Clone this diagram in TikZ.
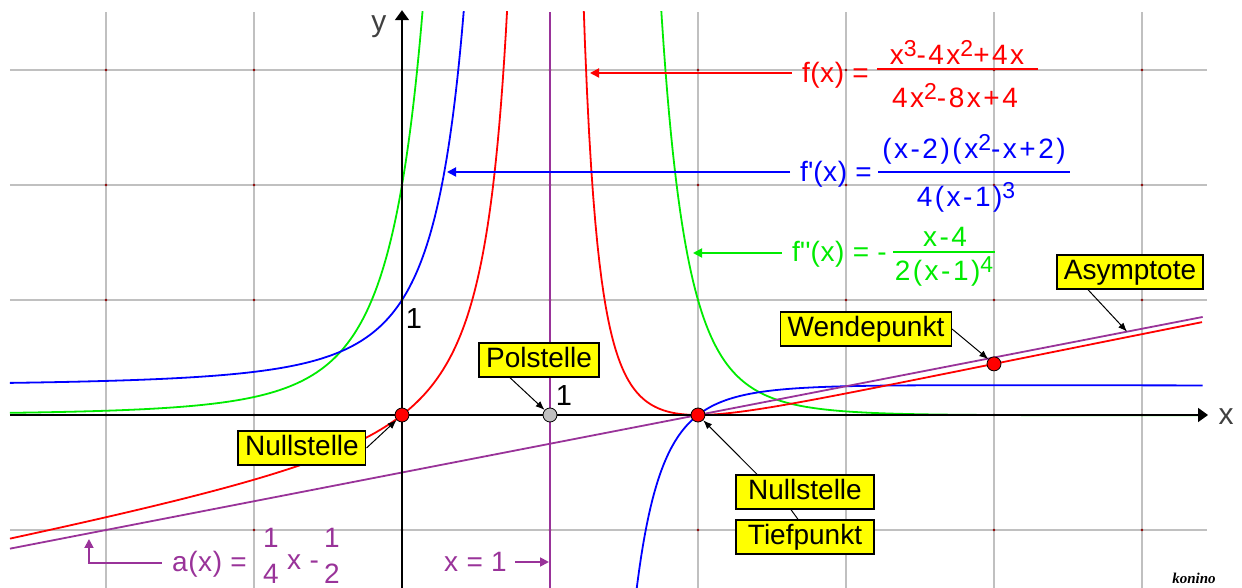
\documentclass[tikz,border=0pt]{standalone}
\usepackage{fontspec}
\setmainfont{Liberation Sans}
\newfontfamily\ffont[LetterSpace=9]{Liberation Sans}
\newfontfamily\lfont[LetterSpace=2]{Liberation Sans}
\newfontfamily\sigfont{Liberation Serif}
\usetikzlibrary{arrows.meta,calc}
\definecolor{gridc}{RGB}{192,192,192}
\definecolor{cred}{RGB}{255,0,0}
\definecolor{cblue}{RGB}{0,0,255}
\definecolor{cgreen}{RGB}{0,235,0}
\definecolor{cpurple}{RGB}{153,51,153}
\definecolor{dotc}{RGB}{140,0,0}
\definecolor{labyellow}{RGB}{255,255,0}
\definecolor{axlab}{RGB}{64,64,64}
\newcommand\sups[1]{\raisebox{8pt}{\fontsize{23}{23}\selectfont #1}}
\begin{document}
\begin{tikzpicture}[x=148pt,y=115pt,
  gridline/.style={gridc, line width=1.8pt},
  curve/.style={line width=1.8pt, line join=round},
  axis/.style={line width=1.8pt, black, -{Triangle[length=10pt,width=14pt]}},
  tag/.style={draw=black, line width=1.4pt, fill=labyellow, font=\fontsize{28}{30}\selectfont,
    inner xsep=7pt, inner ysep=3.5pt, text height=21pt, text depth=6pt},
  pin/.style={draw=black, line width=1pt, -{Latex[length=9pt,width=7pt]}},
  dot/.style={circle, draw=black, line width=0.8pt, minimum size=14pt, inner sep=0pt},
  fml/.style={inner sep=0pt, font=\ffont\fontsize{28}{30}\selectfont},
  flab/.style={inner sep=0pt, font=\lfont\fontsize{28}{30}\selectfont},
  farrow/.style={line width=1.8pt, -{Triangle[length=9pt,width=9pt]}},
  fbar/.style={line width=1.8pt},
  num/.style={inner sep=0pt, font=\fontsize{29}{30}\selectfont},
]
\useasboundingbox (-402pt,-173pt) rectangle (840pt,415pt);

% grid
\foreach \i in {-2,-1,1,2,3,4,5} \draw[gridline] (\i,-1.51) -- (\i,3.504);
\foreach \j in {-1,1,2,3} \draw[gridline] (-2.649,\j) -- (5.439,\j);
\foreach \i in {-2,...,5} \foreach \j in {-1,...,3} \fill[dotc] (\i,\j) circle (1.3pt);

% pole line x = 1
\draw[cpurple, line width=1.8pt] (1,-1.51) -- (1,3.504);

% curves
\begin{scope}
\clip (-392pt,-173pt) rectangle (810pt,403pt);
\draw[curve,cgreen,domain=-2.649:0.151,samples=300] plot (\x,{-(\x-4)/(2*(\x-1)*(\x-1)*(\x-1)*(\x-1))});
\draw[curve,cgreen,domain=1.743:5.44,samples=300] plot (\x,{-(\x-4)/(2*(\x-1)*(\x-1)*(\x-1)*(\x-1))});
\draw[curve,cblue,domain=-2.649:0.43,samples=300] plot (\x,{(\x-2)*(\x*\x-\x+2)/(4*(\x-1)*(\x-1)*(\x-1))});
\draw[curve,cblue,domain=1.577:5.41,samples=300] plot (\x,{(\x-2)*(\x*\x-\x+2)/(4*(\x-1)*(\x-1)*(\x-1))});
\draw[curve,cred,domain=-2.649:0.718,samples=300] plot (\x,{\x*(\x-2)*(\x-2)/(4*(\x-1)*(\x-1))});
\draw[curve,cred,domain=1.222:5.41,samples=300] plot (\x,{\x*(\x-2)*(\x-2)/(4*(\x-1)*(\x-1))});
\draw[curve,cpurple] (-2.649,{-2.649/4-0.5}) -- (5.41,{5.41/4-0.5});
\end{scope}

% axes
\draw[axis] (-2.649,0) -- (5.446,0);
\draw[axis] (0,-1.51) -- (0,3.52);
\node[font=\fontsize{30}{30}\selectfont, text=axlab, inner sep=0pt] (xl) at (824pt,-2pt) {x};
\node[font=\fontsize{30}{30}\selectfont, text=axlab, inner sep=0pt] (yl) at (-23pt,388pt) {y};
\node[num] (one1) at (12pt,96pt) {1};
\node[num] (one2) at (162pt,19pt) {1};

% points
\node[dot, fill=cred] (p0) at (0,0) {};
\node[dot, fill=gridc] (p1) at (1,0) {};
\node[dot, fill=cred] (p2) at (2,0) {};
\node[dot, fill=cred] (p3) at (4,0.4444) {};

% tags
\node[tag] (nl) at (-100pt,-33pt) {Nullstelle};
\node[tag] (pol) at (137pt,55pt) {Polstelle};
\node[tag, minimum width=138pt] (nr) at (403pt,-77pt) {Nullstelle};
\node[tag, minimum width=138pt] (tp) at (403pt,-122pt) {Tiefpunkt};
\node[tag] (wen) at (464pt,86pt) {Wendepunkt};
\node[tag] (asy) at (728pt,143pt) {Asymptote};
\coordinate (asyp) at (4.899,0.7247);

\draw[pin] (nl.east) -- (p0);
\draw[pin] ([xshift=-29pt]pol.south) -- (p1);
\draw[pin] ([xshift=-48pt]nr.north) -- (p2);
\draw[draw=black, line width=1pt] ([xshift=-7pt]tp.north) -- ([xshift=-14pt]nr.south);
\draw[pin] (wen.east) -- (p3);
\draw[pin] ([xshift=-42pt]asy.south) -- (asyp);

% f(x)
\node[flab, text=cred, anchor=base east] (ft) at (467pt,332pt) {f(x) =};
\node[fml, text=cred, anchor=base] (fn) at (555pt,350pt) {x\sups{3}-4x\sups{2}+4x};
\draw[fbar, cred] (475pt,346pt) -- (636pt,346pt);
\node[fml, text=cred, anchor=base] (fd) at (553pt,307pt) {4x\sups{2}-8x+4};
\coordinate (ftip) at (188pt,342pt);
\draw[farrow, cred] ($(ft.west |- ftip)+(-10pt,0)$) -- (ftip);

% f'(x)
\node[flab, text=cblue, anchor=base east] (gt) at (470pt,233pt) {f\textquotesingle(x) =};
\node[fml, text=cblue, anchor=base] (gn) at (572pt,256pt) {(x-2)(x\sups{2}-x+2)};
\draw[fbar, cblue] (476pt,243pt) -- (668pt,243pt);
\node[fml, text=cblue, anchor=base] (gd) at (564pt,208pt) {4(x-1)\sups{3}};
\coordinate (gtip) at (45pt,243pt);
\draw[farrow, cblue] ($(gt.west |- gtip)+(-10pt,0)$) -- (gtip);

% f''(x)
\node[flab, text=cgreen, anchor=base east] (ht) at (485pt,153pt) {f\textquotesingle\textquotesingle(x) = -};
\node[fml, text=cgreen, anchor=base] (hn) at (543pt,168pt) {x-4};
\draw[fbar, cgreen] (491pt,163pt) -- (593pt,163pt);
\node[fml, text=cgreen, anchor=base] (hd) at (542pt,134pt) {2(x-1)\sups{4}};
\coordinate (htip) at (291pt,162pt);
\draw[farrow, cgreen] ($(ht.west |- htip)+(-10pt,0)$) -- (htip);

% a(x)
\node[flab, text=cpurple, anchor=base west] (at) at (-230pt,-157pt) {a(x) =};
\node[fml, text=cpurple, anchor=base] (an1) at (-131pt,-133pt) {1};
\node[fml, text=cpurple, anchor=base] (ad1) at (-131pt,-169pt) {4};
\node[flab, text=cpurple, anchor=base west] (ax) at (-115pt,-155pt) {x -};
\node[fml, text=cpurple, anchor=base] (an2) at (-70pt,-133pt) {1};
\node[fml, text=cpurple, anchor=base] (ad2) at (-70pt,-169pt) {2};
\coordinate (acorner) at (-313pt,-148pt);
\coordinate (atip) at (-313pt,-124pt);
\draw[farrow, cpurple] ($(at.west |- acorner)+(-10pt,0)$) -- (acorner) -- (atip);

% x = 1
\node[flab, text=cpurple, anchor=base west] (x1) at (42pt,-157pt) {x = 1};
\coordinate (x1tip) at (147pt,-147pt);
\draw[farrow, cpurple] ($(x1.east |- x1tip)+(8pt,0)$) -- (x1tip);

% signature
\node[font=\sigfont\bfseries\itshape\fontsize{15}{15}\selectfont, inner sep=0pt] (sig) at (792pt,-163pt) {konino};
\end{tikzpicture}
\end{document}
